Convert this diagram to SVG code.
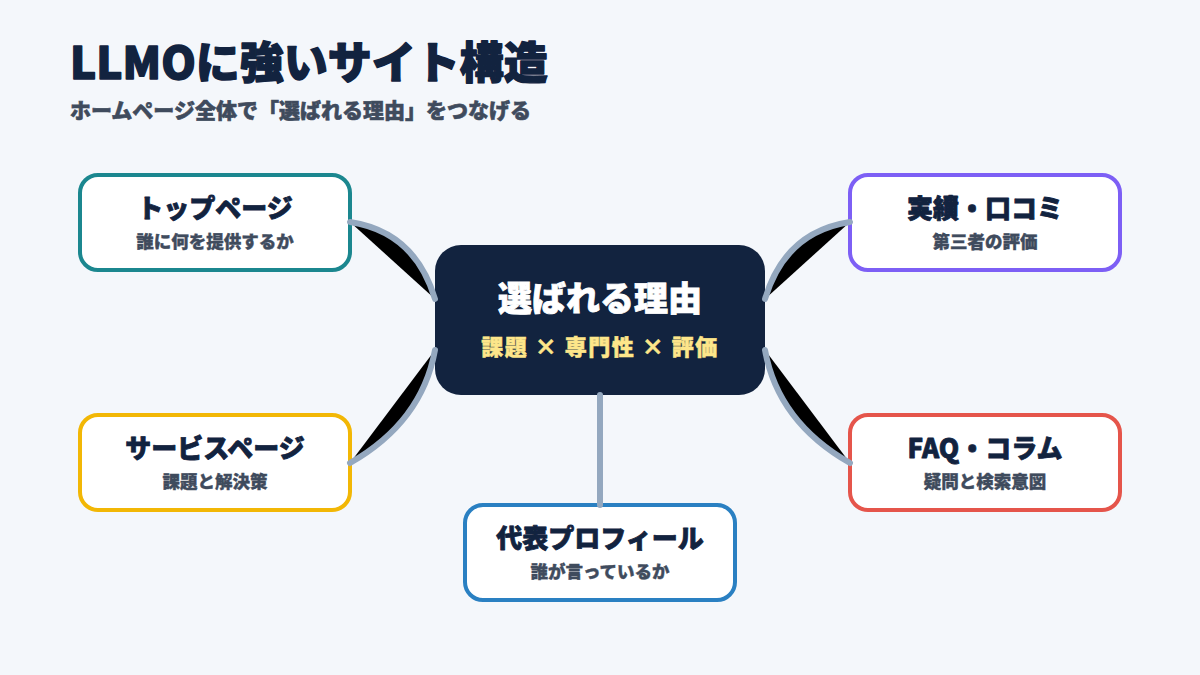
<svg xmlns="http://www.w3.org/2000/svg" width="1200" height="675" viewBox="0 0 1200 675">
<style>
text{font-family:"Noto Sans CJK JP","Noto Sans",sans-serif;text-anchor:middle}
.title{font-size:44px;font-weight:900;fill:#12233f;stroke:#12233f;stroke-width:1.4;stroke-linejoin:round;text-anchor:start}
.sub{font-size:21px;font-weight:900;fill:#3f4b5d;stroke:#3f4b5d;stroke-width:0.6;text-anchor:start}
.node rect{fill:#ffffff;stroke-width:4}
.nt{font-size:26px;font-weight:900;fill:#12233f;stroke:#12233f;stroke-width:0.8;stroke-linejoin:round}
.ns{font-size:17.5px;font-weight:900;fill:#3f4b5d;stroke:#3f4b5d;stroke-width:0.4}
.conn path{stroke:#94a8bf;stroke-width:6;stroke-linecap:round;fill:#000}
.conn line{stroke:#94a8bf;stroke-width:6;stroke-linecap:round}
</style>
<rect width="1200" height="675" fill="#f4f7fb"/>
<text class="title" x="70" y="79">LLMOに強いサイト構造</text>
<text class="sub" x="70" y="118">ホームページ全体で「選ばれる理由」をつなげる</text>

<g id="center">
<rect x="435" y="245" width="330" height="150" rx="26" fill="#12233f"/>
<text x="600" y="311" font-size="34" font-weight="900" fill="#ffffff" stroke="#ffffff" stroke-width="0.8">選ばれる理由</text>
<text x="600" y="355" font-size="22" font-weight="900" fill="#fde68a" stroke="#fde68a" stroke-width="0.5" letter-spacing="1.5" xml:space="preserve">課題 × 専門性 × 評価</text>
</g>
<g id="top-page" class="node">
<rect x="80" y="175" width="270" height="95" rx="18" stroke="#1b878f"/>
<text class="nt" x="215" y="218">トップページ</text>
<text class="ns" x="215" y="248">誰に何を提供するか</text>
</g>
<g id="reviews" class="node">
<rect x="850" y="175" width="270" height="95" rx="18" stroke="#7d5ff5"/>
<text class="nt" x="985" y="218">実績・口コミ</text>
<text class="ns" x="985" y="248">第三者の評価</text>
</g>
<g id="service" class="node">
<rect x="80" y="415" width="270" height="95" rx="18" stroke="#f2b705"/>
<text class="nt" x="215" y="458">サービスページ</text>
<text class="ns" x="215" y="488">課題と解決策</text>
</g>
<g id="faq" class="node">
<rect x="850" y="415" width="270" height="95" rx="18" stroke="#e5554b"/>
<text class="nt" x="985" y="458">FAQ・コラム</text>
<text class="ns" x="985" y="488">疑問と検索意図</text>
</g>
<g id="profile" class="node">
<rect x="465" y="505" width="270" height="95" rx="18" stroke="#2a80c2"/>
<text class="nt" x="600" y="548">代表プロフィール</text>
<text class="ns" x="600" y="578">誰が言っているか</text>
</g>

<g id="connectors" class="conn">
<path d="M350,222 Q415,232 435,299"/>
<path d="M850,222 Q785,232 765,299"/>
<path d="M350,463 Q422,422 435,350"/>
<path d="M850,463 Q778,422 765,350"/>
<line x1="600" y1="395" x2="600" y2="505"/>
</g>
</svg>
